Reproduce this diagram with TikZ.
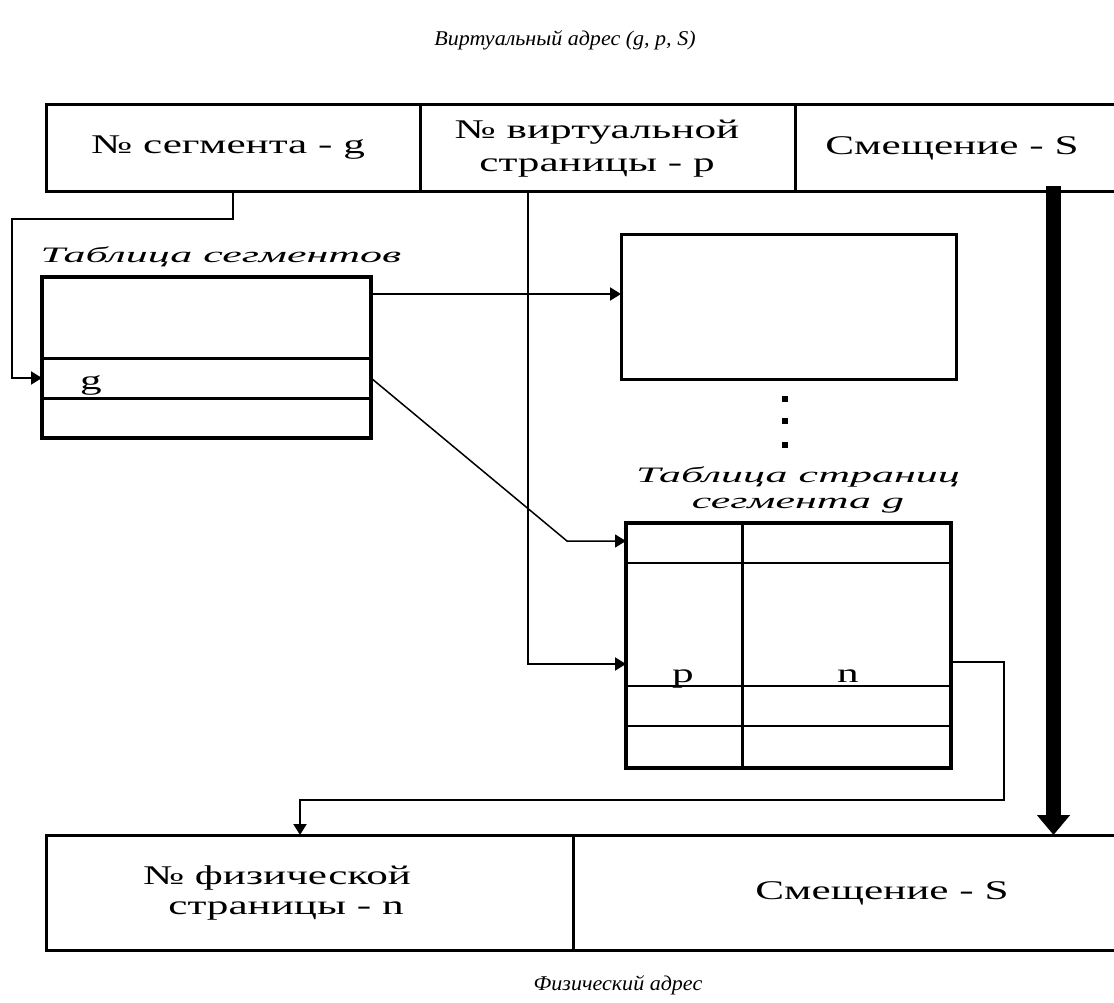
\documentclass[tikz,border=0pt]{standalone}
\usepackage{fontspec}
\setmainfont{Liberation Serif}[FakeStretch=1.6]
\newfontfamily\ttlfont{Liberation Serif}[FakeStretch=2.0]
\newfontfamily\capfont{Liberation Serif}[FakeStretch=1.05]
\usetikzlibrary{arrows.meta}
\begin{document}
\begin{tikzpicture}[x=1pt,y=-1pt,
  cell/.style={draw, line width=3pt, inner sep=0pt, outer sep=0pt},
  tbl/.style={draw, line width=3.5pt, inner sep=0pt, outer sep=0pt},
  rowline/.style={line width=2.5pt},
  tip/.style={-{Triangle[width=13pt,length=11pt]}},
  conn/.style={line width=2pt, tip},
  txt/.style={font=\fontsize{27pt}{33pt}\selectfont, inner sep=0pt, align=center},
  ttl/.style={font=\ttlfont\itshape\fontsize{22pt}{26pt}\selectfont, inner sep=0pt, align=center},
  addr/.style={font=\capfont\itshape\fontsize{21pt}{24pt}\selectfont, inner sep=0pt},
  dot/.style={fill, minimum size=6pt, inner sep=0pt}
]
\useasboundingbox (0,0) rectangle (1114,1003);
\fill[white] (0,0) rectangle (1114,1003);

% virtual address
\node[addr] (vtitle) at (565,40) {Виртуальный адрес (g, p, S)};
\node[cell, minimum width=374pt, minimum height=87pt] (vseg) at (233,148.5) {};
\node[cell, minimum width=375pt, minimum height=87pt] (vpage) at (607.5,148.5) {};
\node[cell, minimum width=321pt, minimum height=87pt] (voff) at (955.5,148.5) {};
\node[txt] (vsegtxt) at (228,148) {№ сегмента - g};
\node[txt] (vpagetxt) at (597,149) {№ виртуальной\\страницы - p};
\node[txt] (vofftxt) at (952,148) {Смещение - S};

% segment table
\node[ttl] (segtitle) at (221,257) {Таблица сегментов};
\node[tbl, minimum width=329pt, minimum height=161pt] (segt) at (206.5,357.5) {};
\node[draw, line width=3pt, inner sep=0pt, outer sep=0pt, minimum width=329pt, minimum height=40pt] (segrow) at (206.5,378) {};
\node[txt] (glabel) at (91,385) {g};

% first page table (frame)
\node[tbl, line width=3pt, minimum width=335pt, minimum height=144pt] (frame) at (788.5,307) {};
\node[dot] (d1) at (785,399) {};
\node[dot] (d2) at (785,421) {};
\node[dot] (d3) at (785,445) {};

% page table of segment g
\node[ttl] (pttitle) at (798,490) {Таблица страниц\\сегмента g};
\node[tbl, minimum width=325pt, minimum height=245pt] (pt) at (788.5,645.5) {};
\draw[rowline] (pt.north west |- 0,563) -- (pt.north east |- 0,563);
\draw[rowline] (pt.north west |- 0,686) -- (pt.north east |- 0,686);
\draw[rowline] (pt.north west |- 0,726) -- (pt.north east |- 0,726);
\draw[line width=3pt] (742,0 |- pt.north) -- (742,0 |- pt.south);
\node[txt, anchor=base] (plabel) at (683,682) {p};
\node[txt, anchor=base] (nlabel) at (848,682) {n};

% physical address
\node[cell, minimum width=527pt, minimum height=115pt] (pnum) at (309.5,892.5) {};
\node[cell, minimum width=543pt, minimum height=115pt] (poff) at (844.5,892.5) {};
\node[txt, font=\fontsize{27pt}{31pt}\selectfont] (pnumtxt) at (277,893) {№ физической\\\hspace*{18pt}страницы - n};
\node[txt] (pofftxt) at (882,893) {Смещение - S};
\node[addr] (ptitle) at (618,985) {Физический адрес};

% connectors
\coordinate (segbend) at (233,219);
\coordinate (segleft) at (12,219);
\draw[conn] (vseg.south) -- (segbend) -- (segleft) |- (segrow.west);

\coordinate (pagedown) at ([xshift=-79.5pt]vpage.south);
\coordinate (ptin) at (pt.west |- 0,664);
\draw[conn] (pagedown) |- (ptin);

\coordinate (segout) at ([yshift=-17pt]segt.north east);
\draw[conn] (segout) -- (segout -| frame.west);

\coordinate (diagbend) at (567,541);
\draw[line width=1.5pt, tip] (segrow.east) -- (diagbend) -- (diagbend -| pt.west);

\coordinate (ptout) at (pt.east |- 0,662);
\coordinate (turn) at (1004,800);
\coordinate (pnumin) at ([xshift=-9.5pt]pnum.north);
\draw[conn] (ptout) -| (turn) -| (pnumin);

\coordinate (barstart) at ([xshift=98pt,yshift=6pt]voff.south);
\coordinate (barend) at ([xshift=209pt]poff.north);
\draw[line width=15pt, -{Triangle[width=32pt,length=20pt]}] (barstart) -- (barend);
\end{tikzpicture}
\end{document}
